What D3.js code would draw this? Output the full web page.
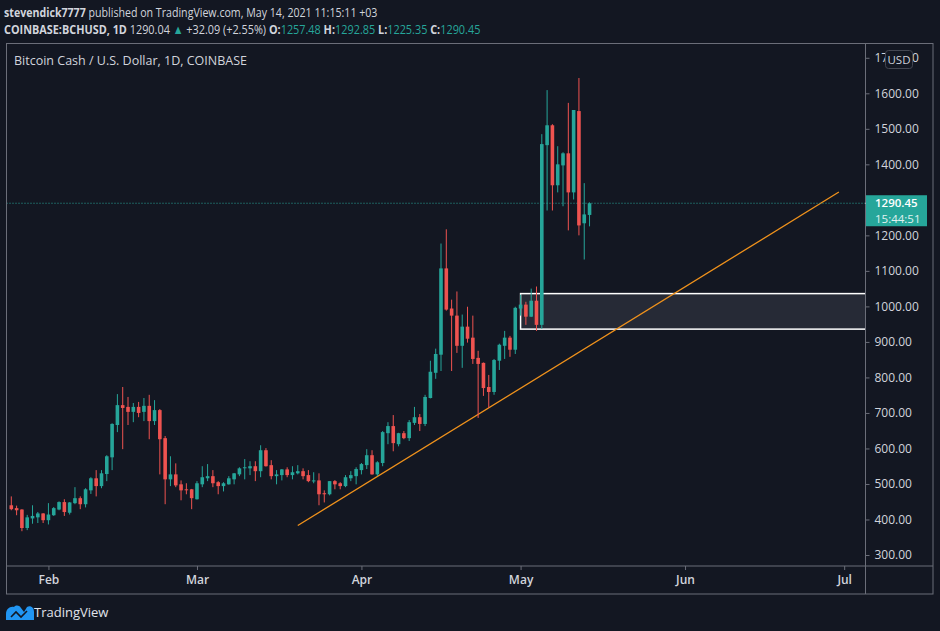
<!DOCTYPE html>
<html>
<head>
<meta charset="utf-8">
<script src="https://cdn.jsdelivr.net/npm/d3@7"></script>
<style>
  html, body { margin: 0; padding: 0; background: #131722; }
  svg { display: block; }
  text { font-family: "Open Sans", "Noto Sans", sans-serif; }
</style>
</head>
<body>
<div id="chart"></div>
<script>
////////////////////////////////////////////////////
// daily candles, BCHUSD, from 2021-01-25 to 2021-05-14
////////////////////////////////////////////////////
var firstDay = "2021-01-25";
var opens  = [440,432,428,376,403,406,417,398,412,428, 449,419,446,460,443,482,516,494,528,575,
              666,722,717,703,717,703,720,677,708,629, 513,527,499,485,485,457,499,516,522,505,
              494,499,513,527,545,544,550,536,595,553, 522,525,541,525,530,536,525,508,510,474,
              471,508,502,494,516,522,539,553,581,527, 559,643,663,612,643,629,672,688,669,742,
              813,864,1107,994,974,889,943,912,855,841, 773,759,847,889,912,878,994,1005,971,1016,
              948,1454,1510,1341,1397,1431,1321,1550,1234,1257.48];
var highs  = [465,439,429,413,440,421,418,446,435,451, 457,449,491,465,488,519,539,539,581,671,
              753,773,745,728,731,742,751,736,711,635, 578,558,510,502,486,508,550,556,539,508,
              505,522,531,547,570,564,564,609,601,567, 539,542,547,550,553,544,539,533,530,482,
              508,511,505,525,536,547,559,598,595,564, 649,674,694,644,649,680,717,697,751,847,
              881,1177,1217,1019,1042,977,999,974,875,842, 807,852,895,931,917,999,1033,1013,1050,1056,
              1485,1609,1513,1451,1434,1573,1553,1643,1347,1292.85];
var lows   = [426,412,367,370,388,390,390,386,410,426, 410,414,443,429,434,472,465,488,508,539,
              646,598,666,674,688,677,626,666,527,443, 494,491,454,471,429,456,491,508,491,471,
              479,498,499,522,513,525,508,519,549,513, 499,510,519,513,527,513,505,502,440,448,
              468,485,485,491,508,499,527,542,526,522, 550,612,592,606,626,621,666,649,663,741,
              796,818,988,818,869,827,898,838,686,748, 714,751,821,852,858,866,974,948,970,931,
              937,1270,1270,1321,1282,1214,1301,1200,1132,1225.35];
var closes = [429,426,376,406,410,417,398,414,432,449, 421,448,460,443,485,516,494,530,578,669,
              722,714,703,717,700,720,677,708,626,513, 527,496,482,483,460,502,519,522,502,494,
              502,516,530,544,547,550,536,595,550,522, 527,541,525,533,536,522,508,510,471,471,
              508,499,494,519,525,542,556,581,527,561, 646,663,615,643,629,674,688,669,745,816,
              866,1107,991,974,889,943,909,852,838,770, 759,849,892,912,878,996,1005,971,1016,948,
              1457,1510,1341,1400,1431,1321,1553,1228,1259,1290.45];

// 1300 sits under the last-price label, so it is not drawn
var priceTicks = [300,400,500,600,700,800,900,1000,1100,1200,1400,1500,1600,1700];
var monthTicks = ["2021-02-01","2021-03-01","2021-04-01","2021-05-01","2021-06-01","2021-07-01"];
var monthNames = ["Feb","Mar","Apr","May","Jun","Jul"];

// drawings on the chart
var trendLine = [{day:"2021-03-20", price:383}, {day:"2021-06-30", price:1322}];
var zoneBox   = {from:"2021-05-01", top:1036, bottom:936};
var lastPrice = 1290.45;
var countdown = "15:44:51";

var headerUser = "stevendick7777";
var headerRest = " published on TradingView.com, May 14, 2021 11:15:11 +03";
var symbolName = "COINBASE:BCHUSD, 1D";
var chartTitle = "Bitcoin Cash / U.S. Dollar, 1D, COINBASE";
var ohlcLine = [
	{t:" 1290.04 ", c:"#d1d4dc", w:400},
	{t:"\u25B2", c:"#26a69a", w:400},
	{t:" +32.09 (+2.55%) ", c:"#d1d4dc", w:400},
	{t:"O:", c:"#d1d4dc", w:700}, {t:"1257.48 ", c:"#26a69a", w:400},
	{t:"H:", c:"#d1d4dc", w:700}, {t:"1292.85 ", c:"#26a69a", w:400},
	{t:"L:", c:"#d1d4dc", w:700}, {t:"1225.35 ", c:"#26a69a", w:400},
	{t:"C:", c:"#d1d4dc", w:700}, {t:"1290.45", c:"#26a69a", w:400}
];
////////////////////////////////////////////////////

var W = 940, H = 631;
var UP = "#26a69a", DOWN = "#ef5350", FRAME = "#6b6e79", TXT = "#d1d4dc";

var parse = d3.utcParse("%Y-%m-%d");
var day0 = parse(firstDay);
var candles = closes.map(function(c,i){
	return {date:d3.utcDay.offset(day0,i), o:opens[i], h:highs[i], l:lows[i], c:c};
});

var plotL = 6.5, plotR = 865.5, plotT = 43.5, plotB = 566, frameB = 594, frameR = 933;

var x = d3.scaleUtc()
	.domain([day0, d3.utcDay.offset(day0,157)])
	.range([11.3, 11.3 + 157*5.305]);
var y = d3.scaleLinear()
	.domain([300,1600])
	.range([555, 93.3]);

var svg = d3.select("#chart").append("svg")
	.attr("width", W).attr("height", H);

svg.append("rect").attr("width",W).attr("height",H).attr("fill","#131722");

// header: the snapshot font is narrow, so squeeze each line to its width
function squeeze(sel, left, width) {
	var k = width / sel.node().getComputedTextLength();
	sel.attr("transform","translate("+left+",0) scale("+k+",1)");
}
var h1 = svg.append("text").attr("x",0).attr("y",17)
	.attr("font-size",13).attr("fill",TXT);
h1.append("tspan").attr("font-weight",700).text(headerUser);
h1.append("tspan").text(headerRest);
squeeze(h1, 4, 374);

var h2 = svg.append("text").attr("x",0).attr("y",34)
	.attr("font-size",13).attr("fill",TXT);
h2.append("tspan").attr("font-weight",700).text(symbolName);
h2.selectAll("tspan.part").data(ohlcLine).enter().append("tspan")
	.attr("class","part")
	.attr("fill",function(d){return d.c;})
	.attr("font-weight",function(d){return d.w;})
	.text(function(d){return d.t;});
squeeze(h2, 4, 477);

// clip for plot
svg.append("clipPath").attr("id","plotclip").append("rect")
	.attr("x",plotL).attr("y",plotT).attr("width",plotR-plotL).attr("height",plotB-plotT);

var plot = svg.append("g").attr("clip-path","url(#plotclip)");

// zone box
plot.append("rect")
	.attr("x", x(parse(zoneBox.from)))
	.attr("y", y(zoneBox.top))
	.attr("width", plotR - x(parse(zoneBox.from)) + 5)
	.attr("height", y(zoneBox.bottom) - y(zoneBox.top))
	.attr("fill","#2a2e39").attr("fill-opacity",0.85)
	.attr("stroke","#ffffff").attr("stroke-width",1.5);

// trend line
plot.append("line")
	.attr("x1", x(parse(trendLine[0].day))).attr("y1", y(trendLine[0].price))
	.attr("x2", x(parse(trendLine[1].day))).attr("y2", y(trendLine[1].price))
	.attr("stroke","#f0921c").attr("stroke-width",1.3);

// last price dotted line
plot.append("line")
	.attr("x1", plotL).attr("x2", plotR)
	.attr("y1", y(lastPrice)).attr("y2", y(lastPrice))
	.attr("stroke",UP).attr("stroke-width",1).attr("stroke-dasharray","1,2");

// candles
var cg = plot.append("g");
cg.selectAll("line.wick").data(candles).enter().append("line")
	.attr("class","wick")
	.attr("x1",function(d){return x(d.date);})
	.attr("x2",function(d){return x(d.date);})
	.attr("y1",function(d){return y(d.h);})
	.attr("y2",function(d){return y(d.l);})
	.attr("stroke",function(d){return d.c>=d.o ? UP : DOWN;})
	.attr("stroke-width",1);
cg.selectAll("rect.body").data(candles).enter().append("rect")
	.attr("class","body")
	.attr("x",function(d){return x(d.date)-1.8;})
	.attr("width",3.6)
	.attr("y",function(d){return y(Math.max(d.o,d.c));})
	.attr("height",function(d){return Math.max(1, Math.abs(y(d.o)-y(d.c)));})
	.attr("fill",function(d){return d.c>=d.o ? UP : DOWN;});

// frame
svg.append("rect").attr("x",plotL).attr("y",plotT)
	.attr("width",frameR-plotL).attr("height",frameB-plotT)
	.attr("fill","none").attr("stroke",FRAME).attr("stroke-width",1);
svg.append("line").attr("x1",plotR).attr("x2",plotR).attr("y1",plotT).attr("y2",frameB)
	.attr("stroke",FRAME);
svg.append("line").attr("x1",plotL).attr("x2",frameR).attr("y1",plotB).attr("y2",plotB)
	.attr("stroke",FRAME);

svg.append("text").attr("x",14).attr("y",65)
	.attr("font-size",12.5).attr("fill",TXT).text(chartTitle);

// price axis
var yAxis = d3.axisRight(y).tickValues(priceTicks).tickSize(4).tickPadding(5)
	.tickFormat(d3.format(".2f"));
var ya = svg.append("g").attr("transform","translate("+plotR+",0)").call(yAxis);
ya.select(".domain").remove();
ya.selectAll("line").attr("stroke",FRAME);
ya.selectAll("text").attr("fill",TXT).attr("font-size",12)
	.attr("font-family","Open Sans, sans-serif");

// time axis
var xAxis = d3.axisBottom(x).tickValues(monthTicks.map(parse)).tickSize(4).tickPadding(5)
	.tickFormat(function(d,i){return monthNames[i];});
var xa = svg.append("g").attr("transform","translate(0,"+plotB+")").call(xAxis);
xa.select(".domain").remove();
xa.selectAll("line").attr("stroke",FRAME);
xa.selectAll("text").attr("fill",TXT).attr("font-size",12).attr("font-weight",600)
	.attr("font-family","Open Sans, sans-serif");

// USD badge (covers the 1700 label, as on the snapshot)
svg.append("rect").attr("x",885.5).attr("y",50.5).attr("width",27).attr("height",18).attr("rx",3)
	.attr("fill","#131722").attr("stroke","#434651");
svg.append("text").attr("x",899).attr("y",63.5).attr("text-anchor","middle")
	.attr("font-size",11.5).attr("fill",TXT).text("USD");

// last price label
var ly = y(lastPrice);
svg.append("line").attr("x1",plotR).attr("x2",plotR+4).attr("y1",ly).attr("y2",ly)
	.attr("stroke","#ffffff");
svg.append("rect").attr("x",plotR+0.5).attr("y",ly-8).attr("width",61).attr("height",31)
	.attr("fill",UP);
svg.append("text").attr("x",875).attr("y",ly+4).attr("font-size",11.5).attr("font-weight",600)
	.attr("fill","#ffffff").text(d3.format(".2f")(lastPrice));
svg.append("text").attr("x",875).attr("y",ly+20).attr("font-size",11.5)
	.attr("fill","#e0f2f1").text(countdown);

// TradingView logo
var logo = svg.append("g").attr("transform","translate(6,604)");
logo.append("path")
	.attr("d","M0,16 L0,10 C0,5 4,2 8,3 C10,1 13,1 15,4 L18,8 L21,3 C24,1 28,3 28,8 L28,16 Z")
	.attr("fill","#2196f3");
logo.append("path")
	.attr("d","M5,13 L10,8 L15,13 L21,7")
	.attr("fill","none").attr("stroke","#131722").attr("stroke-width",1.6);
svg.append("text").attr("x",34).attr("y",617).attr("font-size",13)
	.attr("fill","#e1e3eb").text("TradingView");
</script>
</body>
</html>
